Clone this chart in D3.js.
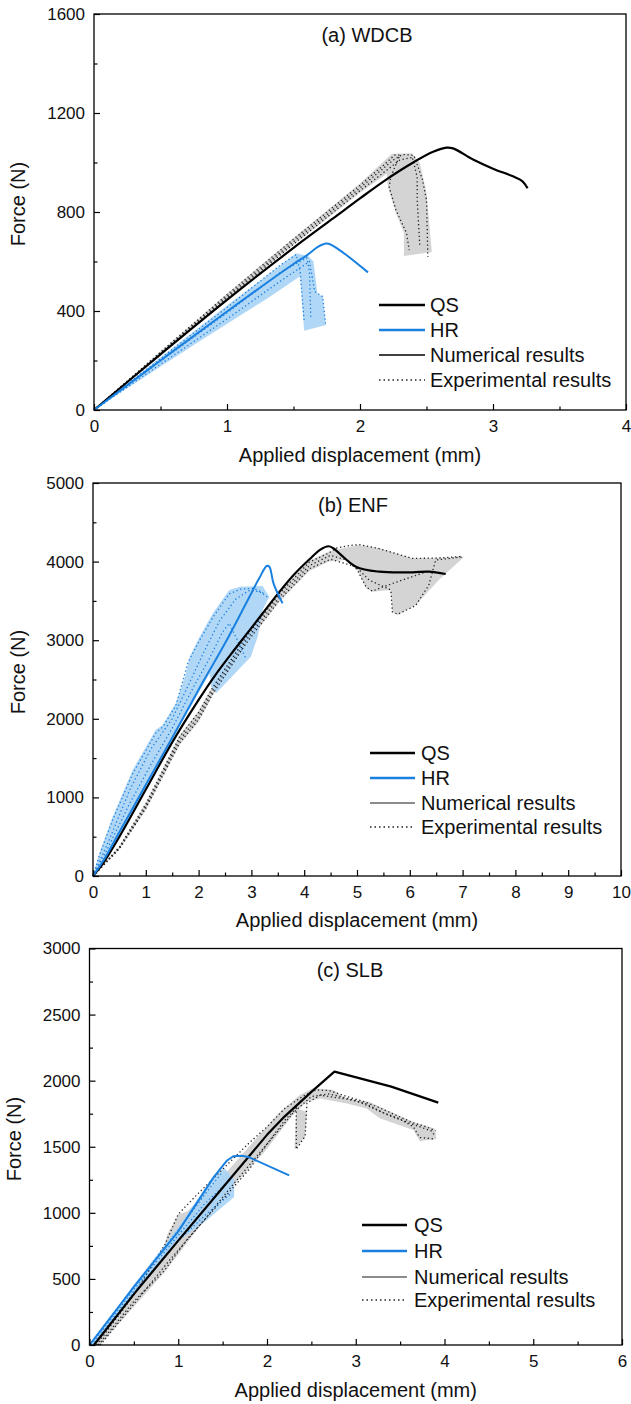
<!DOCTYPE html>
<html>
<head>
<meta charset="utf-8">
<script src="https://cdn.jsdelivr.net/npm/d3@7"></script>
<style>
  body { margin: 0; background: #fff; }
  svg text { font-family: "Liberation Sans", Arial, Helvetica, sans-serif; fill: #111; }
</style>
</head>
<body>
<svg id="chart" width="631" height="1404"></svg>
<script>
// ---------- (a) WDCB : [displacement mm, force N] ----------
const wdcbQsNum = [[0,0],[0.5,225],[1.0,445],[1.5,655],[1.8,775],[2.0,855],[2.2,932],[2.4,1000],[2.55,1043],[2.65,1060],[2.7,1057],[2.85,1012],[3.0,975],[3.15,944],[3.22,925],[3.26,896]];
const wdcbHrNum = [[0,0],[0.5,200],[1.0,398],[1.5,590],[1.6,625],[1.68,658],[1.73,671],[1.77,671],[2.06,556]];
const wdcbQsBand = [[0,0],[0.5,236],[1.0,470],[1.5,695],[2.0,915],[2.24,1035],[2.39,1037],[2.45,998],[2.5,877],[2.54,638],[2.33,622],[2.33,715],[2.27,796],[2.21,901],[2.2,955],[2.0,878],[1.5,668],[1.0,450],[0.5,228],[0,0]];
const wdcbQsExp1 = [[0,0],[0.5,234],[1.0,466],[1.5,690],[2.0,908],[2.2,1000],[2.26,1030],[2.3,1030],[2.23,940],[2.22,900],[2.27,808],[2.35,715],[2.37,646]];
const wdcbQsExp2 = [[0,0],[0.5,230],[1.0,458],[1.5,680],[2.0,897],[2.25,1010],[2.32,1032],[2.39,1030],[2.43,941],[2.43,848],[2.45,659]];
const wdcbQsExp3 = [[0,0],[0.5,226],[1.0,452],[1.5,670],[2.0,886],[2.3,1010],[2.41,1022],[2.47,930],[2.5,848],[2.51,618]];
const wdcbHrBand = [[0,0],[0.5,212],[1.0,422],[1.52,633],[1.61,622],[1.65,600],[1.68,471],[1.72,458],[1.745,343],[1.58,320],[1.55,540],[1.3,450],[0.8,280],[0.4,140],[0,0]];
const wdcbHrExp1 = [[0,0],[0.5,208],[1.0,414],[1.4,585],[1.52,628],[1.55,560],[1.58,360]];
const wdcbHrExp2 = [[0,0],[0.5,198],[1.0,392],[1.4,555],[1.6,615],[1.62,560],[1.63,375]];
const wdcbHrExp3 = [[0,0],[0.5,185],[1.0,368],[1.4,520],[1.62,600],[1.66,478],[1.72,458],[1.74,350]];

// ---------- (b) ENF ----------
const enfQsNum = [[0,0],[0.2,170],[0.5,500],[1.0,1100],[1.5,1700],[2.0,2240],[2.3,2540],[2.6,2810],[2.9,3070],[3.2,3330],[3.5,3590],[3.8,3830],[4.1,4030],[4.3,4150],[4.46,4195],[4.55,4170],[4.66,4108],[4.98,3935],[5.42,3872],[6.05,3864],[6.36,3872],[6.68,3842]];
const enfHrNum = [[0,0],[0.2,200],[0.5,560],[1.0,1160],[1.5,1760],[2.0,2370],[2.5,2960],[2.9,3470],[3.15,3790],[3.29,3944],[3.34,3935],[3.42,3720],[3.59,3469]];
const enfQsBand = [[0,0],[0.5,380],[1.0,930],[1.64,1790],[2.0,2100],[2.27,2420],[2.9,3060],[3.53,3610],[4.1,4010],[4.47,4130],[4.73,4169],[5.04,4211],[5.42,4169],[6.05,4042],[6.49,4042],[7.03,4063],[6.55,3766],[6.11,3448],[5.77,3321],[5.67,3363],[5.64,3639],[5.29,3617],[5.17,3660],[5.01,3893],[4.79,4020],[4.47,4000],[4.1,3880],[3.53,3490],[2.9,2940],[2.27,2300],[2.0,1960],[1.64,1670],[1.0,840],[0.5,340],[0,0]];
const enfQsExp1 = [[0,0],[0.5,370],[1.0,915],[1.64,1770],[2.0,2080],[2.27,2400],[2.9,3040],[3.53,3590],[4.1,3995],[4.47,4110],[4.6,4169],[4.85,4205],[5.04,4215],[5.42,4165],[6.05,4040],[6.49,4045],[7.0,4065]];
const enfQsExp2 = [[0,0],[0.5,355],[1.0,885],[1.64,1730],[2.0,2030],[2.27,2360],[2.9,3000],[3.53,3550],[4.1,3950],[4.5,4080],[4.8,4020],[5.0,3900],[5.17,3680],[5.29,3625],[5.5,3680],[5.75,3740],[6.1,3820],[6.35,3880]];
const enfQsExp3 = [[0,0],[0.5,345],[1.0,860],[1.64,1690],[2.0,1990],[2.27,2320],[2.9,2960],[3.53,3510],[4.1,3910],[4.5,4030],[4.98,3935],[5.23,3765],[5.64,3639],[5.67,3360],[5.77,3330],[6.11,3440],[6.36,3700],[6.49,4020],[7.0,4060]];
const enfHrBand = [[0,0],[0.12,290],[0.37,750],[0.75,1350],[1.19,1860],[1.32,1920],[1.57,2200],[1.75,2560],[1.83,2790],[2.02,3045],[2.27,3342],[2.58,3638],[2.78,3680],[3.21,3690],[3.34,3553],[3.21,3384],[3.12,3045],[2.99,2790],[2.33,2324],[2.24,2409],[2.21,2579],[2.0,2330],[1.5,1730],[1.0,1120],[0.5,520],[0.2,180],[0,0]];
const enfHrExp1 = [[0,0],[0.12,260],[0.37,710],[0.75,1300],[1.19,1820],[1.32,1895],[1.57,2170],[1.8,2720],[2.02,3000],[2.27,3290],[2.58,3590],[2.8,3650],[3.05,3660],[3.25,3590]];
const enfHrExp2 = [[0,0],[0.3,450],[0.7,1100],[1.1,1620],[1.5,2000],[1.8,2420],[2.1,2850],[2.4,3250],[2.7,3520],[2.95,3630],[3.15,3620],[3.3,3550]];
const enfHrExp3 = [[0,0],[0.3,380],[0.7,930],[1.1,1420],[1.5,1880],[1.9,2400],[2.2,2760],[2.45,3100],[2.58,3215],[2.75,2980],[2.9,2760]];

// ---------- (c) SLB ----------
const slbQsNum = [[0.05,0],[0.5,385],[1.0,790],[1.5,1190],[2.0,1590],[2.2,1730],[2.5,1915],[2.76,2068],[3.4,1955],[3.93,1834]];
const slbHrNum = [[0,0],[0.5,440],[1.0,860],[1.4,1270],[1.55,1396],[1.62,1428],[1.72,1432],[1.8,1420],[2.25,1283]];
const slbQsBand = [[0.03,0],[0.5,390],[0.8,660],[0.88,840],[1.0,990],[1.1,1010],[1.4,1200],[1.77,1480],[2.14,1760],[2.37,1892],[2.52,1942],[2.74,1932],[2.89,1866],[3.15,1841],[3.27,1803],[3.64,1690],[3.89,1639],[3.91,1556],[3.72,1543],[3.65,1626],[3.27,1715],[3.12,1790],[2.9,1828],[2.6,1866],[2.45,1840],[2.29,1740],[1.99,1475],[1.61,1198],[1.28,933],[0.85,555],[0.83,540],[0.5,290],[0.12,0]];
const slbQsSpike = [[2.33,1790],[2.31,1475],[2.43,1576],[2.45,1765]];
const slbQsExp1 = [[0.08,0],[0.5,380],[0.85,760],[1.0,990],[1.2,1130],[1.5,1330],[1.8,1530],[2.0,1650],[2.2,1790],[2.4,1880],[2.55,1930],[2.7,1925],[2.9,1880],[3.1,1840],[3.25,1800],[3.45,1740],[3.65,1680],[3.8,1650],[3.9,1620]];
const slbQsExp2 = [[0.1,0],[0.5,330],[0.84,560],[1.1,800],[1.5,1100],[1.8,1330],[2.0,1520],[2.2,1700],[2.33,1790],[2.33,1480],[2.43,1580],[2.45,1830],[2.6,1890],[2.9,1860],[3.1,1830],[3.3,1760],[3.5,1710],[3.65,1650],[3.72,1570],[3.88,1560]];
const slbQsExp3 = [[0.12,0],[0.5,310],[0.9,640],[1.3,950],[1.6,1200],[1.9,1440],[2.1,1600],[2.3,1760],[2.5,1880],[2.7,1900],[3.0,1850],[3.2,1790],[3.4,1730],[3.6,1680],[3.85,1620],[3.9,1580]];
const slbHrBand = [[0,0],[0.5,455],[1.0,890],[1.4,1280],[1.52,1340],[1.63,1250],[1.63,1120],[1.27,915],[1.0,790],[0.7,560],[0.3,220],[0.05,0]];
const slbHrExp1 = [[0,0],[0.5,440],[1.0,870],[1.3,1140],[1.5,1310]];
const slbHrExp2 = [[0.02,0],[0.5,420],[1.0,830],[1.3,1070],[1.6,1260]];
const slbHrExp3 = [[0.04,0],[0.5,400],[1.0,790],[1.3,980],[1.6,1150]];

// ---------- ticks ----------
const xTicksA = [0, 1, 2, 3, 4];
const yTicksA = [0, 400, 800, 1200, 1600];
const xTicksB = [0, 1, 2, 3, 4, 5, 6, 7, 8, 9, 10];
const yTicksB = [0, 1000, 2000, 3000, 4000, 5000];
const xTicksC = [0, 1, 2, 3, 4, 5, 6];
const yTicksC = [0, 500, 1000, 1500, 2000, 2500, 3000];
const legendLabels = ["QS", "HR", "Numerical results", "Experimental results"];

const BLUE = "#1a80e0";
const BLUE_FILL = "#a9d3f6";
const GRAY_FILL = "#d4d4d4";

const svg = d3.select("#chart");

const halfSteps = (ticks) => {
  const out = [];
  for (let i = 0; i < ticks.length - 1; i++) out.push((ticks[i] + ticks[i + 1]) / 2);
  return out;
};

function drawPanel(p) {
  const g = svg.append("g");
  const x = d3.scaleLinear().domain([p.xTicks[0], p.xTicks[p.xTicks.length - 1]]).range([p.left, p.right]);
  const y = d3.scaleLinear().domain([p.yTicks[0], p.yTicks[p.yTicks.length - 1]]).range([p.bottom, p.top]);
  const line = d3.line().x(d => x(d[0])).y(d => y(d[1]));
  const numLine = d3.line().x(d => x(d[0])).y(d => y(d[1]))
    .curve(p.smooth ? d3.curveCatmullRom.alpha(0.5) : d3.curveLinear);

  // scatter bands
  p.qsBands.forEach(b => g.append("path").attr("d", line(b) + "Z").attr("fill", GRAY_FILL));
  g.append("path").attr("d", line(p.hrBand) + "Z").attr("fill", BLUE_FILL).attr("opacity", 0.9);

  // experimental curves (dotted)
  p.qsExp.forEach(d => g.append("path").attr("d", line(d)).attr("fill", "none")
    .attr("stroke", "#222").attr("stroke-width", 1.3).attr("stroke-dasharray", "1.3,2.6"));
  p.hrExp.forEach(d => g.append("path").attr("d", line(d)).attr("fill", "none")
    .attr("stroke", BLUE).attr("stroke-width", 1.3).attr("stroke-dasharray", "1.3,2.6"));

  // numerical curves
  g.append("path").attr("d", numLine(p.qsNum)).attr("fill", "none").attr("stroke", "#000")
    .attr("stroke-width", 2.2).attr("stroke-linejoin", "round");
  g.append("path").attr("d", numLine(p.hrNum)).attr("fill", "none").attr("stroke", BLUE)
    .attr("stroke-width", 2).attr("stroke-linejoin", "round");

  // axes, ticks pointing inward
  const styleAxis = sel => {
    sel.select(".domain").remove();
    sel.selectAll("line").attr("stroke", "#000").attr("stroke-width", 1.2);
    sel.selectAll("text").attr("font-size", 17).attr("fill", "#111")
      .attr("font-family", '"Liberation Sans", Arial, sans-serif');
  };
  g.append("g").attr("transform", `translate(0,${p.bottom})`)
    .call(d3.axisBottom(x).tickValues(p.xTicks).tickSize(-6).tickPadding(10).tickFormat(d3.format("d")))
    .call(styleAxis);
  g.append("g").attr("transform", `translate(0,${p.bottom})`)
    .call(d3.axisBottom(x).tickValues(halfSteps(p.xTicks)).tickSize(-3.5).tickFormat(""))
    .call(styleAxis);
  g.append("g").attr("transform", `translate(${p.left},0)`)
    .call(d3.axisLeft(y).tickValues(p.yTicks).tickSize(-6).tickPadding(9).tickFormat(d3.format("d")))
    .call(styleAxis);
  g.append("g").attr("transform", `translate(${p.left},0)`)
    .call(d3.axisLeft(y).tickValues(halfSteps(p.yTicks)).tickSize(-3.5).tickFormat(""))
    .call(styleAxis);

  g.append("rect").attr("x", p.left).attr("y", p.top)
    .attr("width", p.right - p.left).attr("height", p.bottom - p.top)
    .attr("fill", "none").attr("stroke", "#000").attr("stroke-width", 1.3);

  // labels
  g.append("text").attr("x", p.titleX).attr("y", p.titleY).attr("text-anchor", "middle")
    .attr("font-size", 20).text(p.title);
  g.append("text").attr("x", (p.left + p.right) / 2).attr("y", p.xLabelY).attr("text-anchor", "middle")
    .attr("font-size", 20).text("Applied displacement (mm)");
  g.append("text").attr("transform", `translate(${p.yLabelX},${p.yLabelY}) rotate(-90)`)
    .attr("text-anchor", "middle").attr("font-size", 20).text("Force (N)");

  // legend
  const lg = p.legend;
  const styles = [
    { stroke: "#000", width: 2.5, dash: null },
    { stroke: BLUE, width: 2.5, dash: null },
    { stroke: p.numLegendColor, width: p.numLegendWidth, dash: null },
    { stroke: "#222", width: 1.4, dash: "1.5,3" }
  ];
  legendLabels.forEach((label, i) => {
    const ly = lg.ys[i];
    const s = styles[i];
    g.append("line").attr("x1", lg.x1).attr("x2", lg.x2).attr("y1", ly).attr("y2", ly)
      .attr("stroke", s.stroke).attr("stroke-width", s.width).attr("stroke-dasharray", s.dash);
    g.append("text").attr("x", lg.tx).attr("y", ly).attr("dy", "0.36em")
      .attr("font-size", 20).text(label);
  });
}

drawPanel({
  title: "(a) WDCB", titleX: 367, titleY: 42,
  left: 94, right: 626, top: 14, bottom: 410, smooth: true,
  xTicks: xTicksA, yTicks: yTicksA,
  xLabelY: 462, yLabelX: 25, yLabelY: 204,
  qsNum: wdcbQsNum, hrNum: wdcbHrNum,
  qsBands: [wdcbQsBand], hrBand: wdcbHrBand,
  qsExp: [wdcbQsExp1, wdcbQsExp2, wdcbQsExp3], hrExp: [wdcbHrExp1, wdcbHrExp2, wdcbHrExp3],
  numLegendColor: "#000", numLegendWidth: 1.5,
  legend: { x1: 379, x2: 425, tx: 430, ys: [305, 330, 355, 380] }
});

drawPanel({
  title: "(b) ENF", titleX: 353, titleY: 512,
  left: 93, right: 621, top: 483, bottom: 876, smooth: true,
  xTicks: xTicksB, yTicks: yTicksB,
  xLabelY: 927, yLabelX: 25, yLabelY: 672,
  qsNum: enfQsNum, hrNum: enfHrNum,
  qsBands: [enfQsBand], hrBand: enfHrBand,
  qsExp: [enfQsExp1, enfQsExp2, enfQsExp3], hrExp: [enfHrExp1, enfHrExp2, enfHrExp3],
  numLegendColor: "#8c8c8c", numLegendWidth: 2,
  legend: { x1: 370, x2: 415, tx: 421, ys: [753, 778, 803, 827] }
});

drawPanel({
  title: "(c) SLB", titleX: 350, titleY: 977,
  left: 89.5, right: 622, top: 948.5, bottom: 1345, smooth: false,
  xTicks: xTicksC, yTicks: yTicksC,
  xLabelY: 1397, yLabelX: 21, yLabelY: 1139,
  qsNum: slbQsNum, hrNum: slbHrNum,
  qsBands: [slbQsBand, slbQsSpike], hrBand: slbHrBand,
  qsExp: [slbQsExp1, slbQsExp2, slbQsExp3], hrExp: [slbHrExp1, slbHrExp2, slbHrExp3],
  numLegendColor: "#8c8c8c", numLegendWidth: 2,
  legend: { x1: 362, x2: 407, tx: 414, ys: [1225, 1251, 1277, 1300] }
});
</script>
</body>
</html>
